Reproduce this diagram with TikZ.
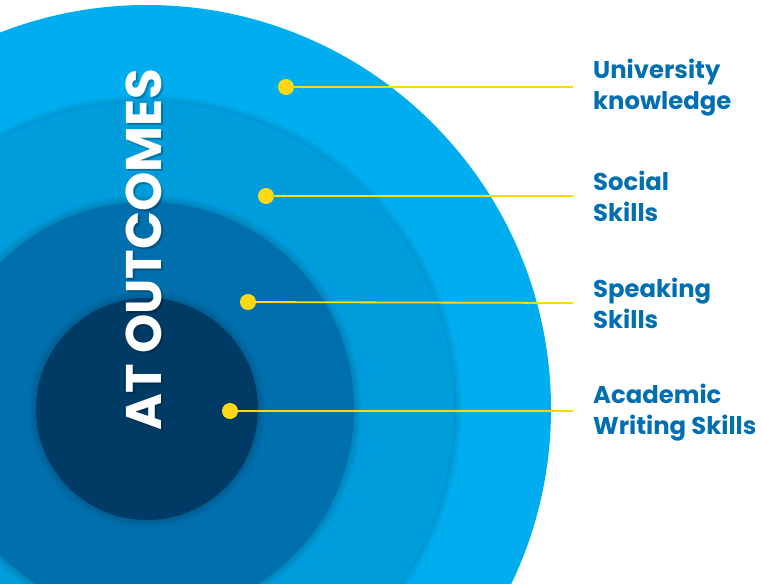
\documentclass[tikz,border=0pt]{standalone}
\usepackage{fontspec}
\setmainfont{Poppins}
\definecolor{ringA}{RGB}{0,174,239}
\definecolor{ringB}{RGB}{0,157,220}
\definecolor{ringC}{RGB}{0,111,173}
\definecolor{ringD}{RGB}{0,59,101}
\definecolor{labelblue}{RGB}{0,111,178}
\definecolor{dotyellow}{RGB}{255,218,20}
\tikzset{
  dotmark/.style={circle,fill=dotyellow,inner sep=0pt,minimum size=16pt},
  conn/.style={draw=dotyellow,line width=1.8pt},
  lbl/.style={anchor=west,align=left,text=labelblue,inner sep=0pt,
    font=\fontsize{24.3}{31}\selectfont\bfseries},
  titletext/.style={rotate=90,inner sep=0pt,font=\fontsize{50}{50}\selectfont\bfseries}
}
\begin{document}
\begin{tikzpicture}[x=1pt,y=-1pt]
\useasboundingbox (0,0) rectangle (761,584);
\clip (0,0) rectangle (761,584);
\coordinate (c) at (147,409);
\fill[ringA] (c) circle[radius=404pt];
\foreach \i in {1,...,8} \fill[black,opacity=0.016] (c) circle[radius={307pt+\i pt}];
\fill[ringB] (c) circle[radius=307pt];
\foreach \i in {1,...,8} \fill[black,opacity=0.016] (c) circle[radius={207pt+\i pt}];
\fill[ringC] (c) circle[radius=207pt];
\foreach \i in {1,...,8} \fill[black,opacity=0.016] (c) circle[radius={111pt+\i pt}];
\fill[ringD] (c) circle[radius=111pt];
% title
\node[titletext,text=black,opacity=0.25] (tshadow) at (146,251.5) {AT OUTCOMES};
\node[titletext,text=white] (title) at (144,249.5) {AT OUTCOMES};
% markers
\node[dotmark] (d1) at (286,87) {};
\node[dotmark] (d2) at (266,196) {};
\node[dotmark] (d3) at (248,302) {};
\node[dotmark] (d4) at (230,411) {};
\coordinate (e1) at (573,87);
\coordinate (e2) at (573,196);
\coordinate (e3) at (573,303);
\coordinate (e4) at (573,411);
\draw[conn] (d1) -- (e1);
\draw[conn] (d2) -- (e2);
\draw[conn] (d3) -- (e3);
\draw[conn] (d4) -- (e4);
\node[lbl] (l1) at ([xshift=20pt,yshift=-1pt]e1) {University\\knowledge};
\node[lbl] (l2) at ([xshift=20pt]e2) {Social\\Skills};
\node[lbl] (l3) at ([xshift=20pt]e3) {Speaking\\Skills};
\node[lbl] (l4) at ([xshift=20pt,yshift=-2pt]e4) {Academic\\Writing Skills};
\end{tikzpicture}
\end{document}
